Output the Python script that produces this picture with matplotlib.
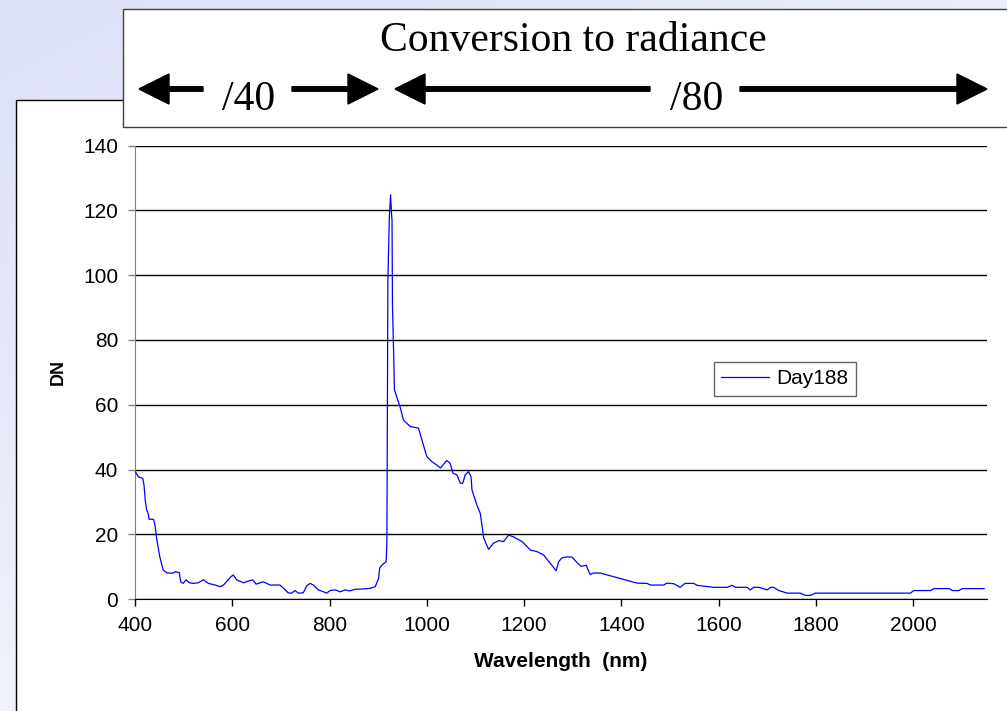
import numpy as np
import matplotlib
matplotlib.use("Agg")
from matplotlib import pyplot as plt
from matplotlib.patches import Rectangle

# Day188 spectrum, digital numbers against wavelength
wavelength = [
    400, 407, 416, 418.5, 421, 424, 427, 429, 438, 441, 445, 451, 458, 465,
    476, 484, 491, 494, 499, 505, 512, 520, 530, 541, 551, 565, 575, 582,
    596, 602, 609, 623, 633, 642, 649, 654, 663, 671, 678, 698, 709, 715,
    722, 729, 736, 746, 753, 760, 767, 777, 788, 794, 801, 812, 822, 832,
    842, 853, 870, 884, 894, 901, 903, 908, 916.5, 918, 919, 920, 921, 923,
    925.5, 927.5, 928.5, 929.5, 932, 933.5, 945, 952, 966, 983, 990, 1000,
    1010, 1020, 1028, 1041, 1048, 1054, 1062, 1069, 1074, 1079, 1086, 1091,
    1093, 1103, 1110, 1117, 1127, 1137, 1148, 1158, 1168, 1178, 1196, 1213,
    1227, 1240, 1254, 1266, 1271, 1278, 1288, 1299, 1309, 1317, 1322, 1328,
    1331, 1336, 1343, 1357, 1432, 1453, 1460, 1487, 1494, 1508, 1521, 1531,
    1549, 1556, 1590, 1617, 1628, 1635, 1659, 1665, 1672, 1683, 1700, 1707,
    1713, 1724, 1741, 1768, 1779, 1789, 1799, 1995, 2001, 2036, 2043, 2074,
    2081, 2094, 2101, 2146,
]
dn = [
    39.5, 37.8, 37.3, 35.3, 30.6, 27.6, 26.5, 24.7, 24.7, 22.9, 18.3, 13.1, 9.0, 8.2,
    8.0, 8.5, 8.2, 5.4, 4.9, 6.0, 5.1, 4.9, 5.1, 6.0, 4.9, 4.4, 3.9, 4.4,
    6.8, 7.5, 6.0, 5.1, 5.6, 6.0, 4.7, 4.9, 5.4, 4.9, 4.4, 4.4, 2.9, 2.0,
    1.9, 2.7, 1.9, 2.0, 4.1, 4.9, 4.4, 2.9, 2.3, 1.9, 2.7, 2.9, 2.3, 2.9,
    2.6, 3.1, 3.2, 3.4, 3.9, 6.5, 9.6, 10.6, 11.6, 18.0, 60.0, 98.0, 105.0, 118.0,
    124.8, 119.0, 117.0, 90.0, 75.0, 64.6, 59.4, 55.3, 53.3, 52.8, 49.2, 44.0,
    42.5, 41.5, 40.5, 42.8, 42.0, 38.9, 38.4, 35.8, 35.8, 38.4, 39.4, 37.8,
    33.7, 29.1, 26.5, 19.0, 15.4, 17.3, 18.1, 17.8, 19.8, 19.3, 17.8, 15.2,
    14.7, 13.7, 11.1, 8.8, 11.6, 12.8, 13.1, 13.0, 11.3, 10.2, 10.3, 10.5,
    9.3, 7.7, 8.1, 8.1, 5.0, 4.9, 4.4, 4.4, 5.0, 4.8, 3.7, 4.9,
    4.9, 4.3, 3.7, 3.7, 4.3, 3.7, 3.7, 2.9, 3.7, 3.7, 2.9, 3.7,
    3.7, 2.7, 1.9, 1.9, 1.2, 1.2, 1.9, 1.9, 2.7, 2.7, 3.3, 3.3,
    2.7, 2.7, 3.3, 3.3,
]
x_ticks = [400, 600, 800, 1000, 1200, 1400, 1600, 1800, 2000]
y_ticks = [0, 20, 40, 60, 80, 100, 120, 140]

W, H = 1007, 711
fig = plt.figure(figsize=(W / 100, H / 100), dpi=100)

# slide background, working in pixel units
bg = fig.add_axes([0, 0, 1, 1], zorder=0)
bg.set_xlim(0, W)
bg.set_ylim(H, 0)
bg.axis("off")
xx, yy = np.meshgrid(np.linspace(0, 1, 200), np.linspace(0, 1, 150))
t = np.clip(1 - (0.45 * xx + 0.6 * yy), 0.15, 1)[..., None]
base = np.array([220, 224, 246]) / 255
grad = base * t + (1 - t)
bg.imshow(grad, extent=[0, W, H, 0], aspect="auto", zorder=0)

# chart area and the header box
bg.add_patch(Rectangle((16, 100), 1100, 700, facecolor="white",
                       edgecolor="black", lw=1.0, zorder=1))
bg.add_patch(Rectangle((123, 9), 1000, 118, facecolor="white",
                       edgecolor="#404040", lw=1.0, zorder=2))
serif = dict(family="Liberation Serif", fontsize=30, ha="center",
             va="baseline", zorder=3)
bg.text(573, 51, "Conversion to radiance", **serif)
bg.text(249, 110, "/40", **serif)
bg.text(697, 110, "/80", **serif)

arrow_kw = dict(width=4.5, head_width=30, head_length=30,
                length_includes_head=True, color="black", zorder=3)
y_arr = 89
for x0, x1 in [(203, 139), (292, 378), (650, 395), (740, 987)]:
    bg.arrow(x0, y_arr, x1 - x0, 0, **arrow_kw)

# spectrum plot
ax = fig.add_axes([135 / W, 1 - 599.3 / H, (987 - 135) / W, (599.3 - 145.5) / H],
                  zorder=2)
ax.set_facecolor("white")
ax.plot(wavelength, dn, color="#0000ff", lw=0.9, label="Day188", zorder=3)
ax.set_xlim(400, 2152)
ax.set_ylim(0, 140)
ax.set_xticks(x_ticks)
ax.set_yticks(y_ticks)
ax.grid(axis="y", color="black", lw=1.0)
ax.set_axisbelow(True)
for side in ["top", "right"]:
    ax.spines[side].set_visible(False)
ax.spines["left"].set_color("#808080")
ax.spines["bottom"].set_color("black")
ax.tick_params(direction="out", length=5, width=1, labelsize=15,
               pad=7, colors="black")
ax.tick_params(axis="y", color="#808080")
for lab in ax.get_xticklabels() + ax.get_yticklabels():
    lab.set_family("Liberation Sans")

ax.set_xlabel("Wavelength  (nm)", family="Liberation Sans", fontsize=15,
              fontweight="bold", labelpad=12)
ax.set_ylabel("DN", family="Liberation Sans", fontsize=13,
              fontweight="bold", labelpad=12)

leg = ax.legend(loc="upper left", bbox_to_anchor=((714 - 135) / 852, 1 - (362 - 145.5) / 453.8),
                frameon=True, fancybox=False, prop={"family": "Liberation Sans", "size": 15},
                handlelength=2.3, borderpad=0.35, handletextpad=0.35, borderaxespad=0)
leg.get_frame().set_edgecolor("#404040")
leg.get_frame().set_linewidth(1.0)

fig.savefig("out.png", dpi=100)
